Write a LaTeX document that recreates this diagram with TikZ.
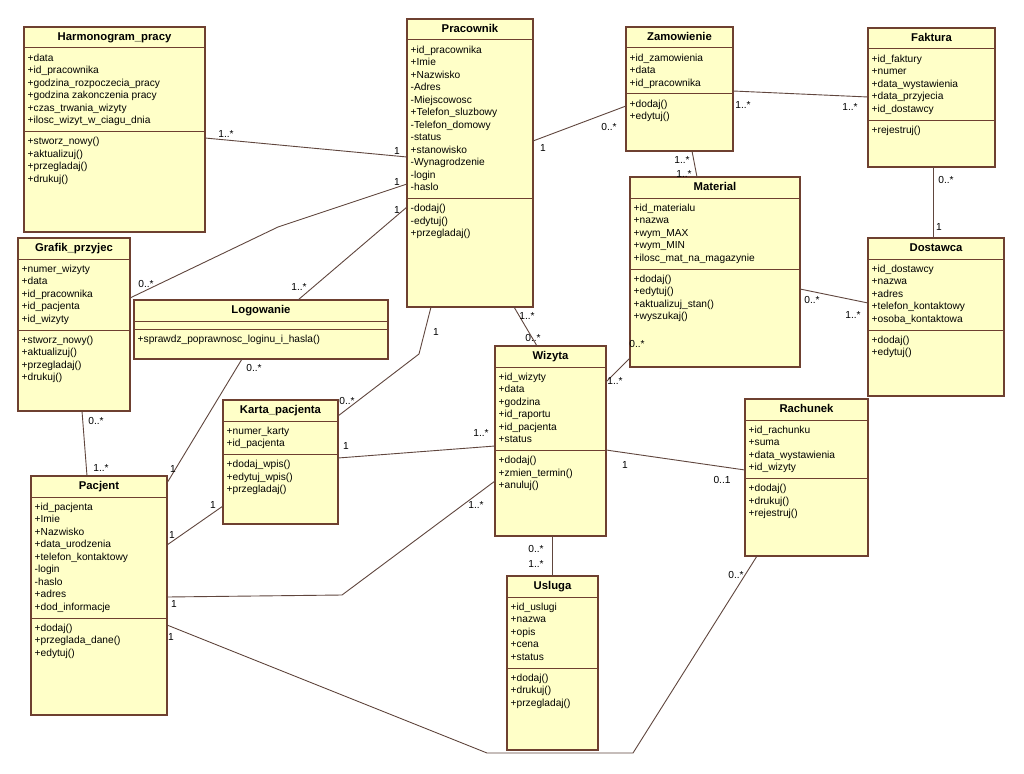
\documentclass[tikz,border=0pt]{standalone}
\usepackage{fontspec}
\setmainfont{Liberation Sans}
\definecolor{clsfill}{RGB}{255,255,200}
\definecolor{clsdraw}{RGB}{110,64,48}
\definecolor{assocline}{RGB}{96,70,62}
\tikzset{
  clsbox/.style={draw=clsdraw, fill=clsfill, line width=1.1pt, inner sep=0pt, outer sep=0pt},
  clssep/.style={draw=clsdraw, line width=1pt},
  clstitle/.style={font=\fontsize{11.3}{13}\selectfont\bfseries, inner sep=0pt, text height=8pt, text depth=2.2pt},
  attr/.style={font=\fontsize{10.2}{12.5}\selectfont, anchor=west, inner sep=0pt, text height=7.5pt, text depth=2.1pt},
  mult/.style={font=\fontsize{10.2}{12.5}\selectfont, inner sep=0pt, text height=7.5pt, text depth=0pt},
  assoc/.style={draw=assocline, line width=0.9pt},
}
% #1 name, #2 x1, #3 top, #4 x2, #5 bottom, #6 title, #7 attributes, #8 methods
\newcommand\umlclass[8]{%
  \node[clsbox, anchor=north west, minimum width={#4-#2}, minimum height={#5-#3}] (#1) at (#2,#3) {};
  \node[clstitle] (#1-title) at ({(#2+#4)/2},{#3+10.5}) {#6};
  \draw[clssep] (#2,{#3+21}) -- (#4,{#3+21});
  \gdef\nattr{0}%
  \def\umlattrlist{#7}%
  \ifx\umlattrlist\empty\else
    \foreach \itm [count=\cnt] in {#7} {%
      \node[attr] (#1-a\cnt) at ({#2+3.5},{#3+31.5+12.5*(\cnt-1)}) {\itm};
      \xdef\nattr{\cnt}}%
  \fi
  \pgfmathsetmacro\sepy{#3+21+12.5*\nattr+8.5}
  \draw[clssep] (#2,\sepy) -- (#4,\sepy);
  \foreach \itm [count=\cnt] in {#8} {%
    \node[attr] (#1-m\cnt) at ({#2+3.5},{\sepy+10.5+12.5*(\cnt-1)}) {\itm};}%
}
\begin{document}
\begin{tikzpicture}[x=1pt,y=-1pt]
\useasboundingbox[fill=white] (0,0) rectangle (1024,773);

\umlclass{harm}{24}{27}{205}{232}{Harmonogram\_pracy}
  {+data, +id\_pracownika, +godzina\_rozpoczecia\_pracy, +godzina zakonczenia pracy, +czas\_trwania\_wizyty, +ilosc\_wizyt\_w\_ciagu\_dnia}
  {+stworz\_nowy(), +aktualizuj(), +przegladaj(), +drukuj()}
\umlclass{prac}{407}{19}{533}{307}{Pracownik}
  {+id\_pracownika, +Imie, +Nazwisko, -Adres, -Miejscowosc, +Telefon\_sluzbowy, -Telefon\_domowy, -status, +stanowisko, -Wynagrodzenie, -login, -haslo}
  {-dodaj(), -edytuj(), +przegladaj()}
\umlclass{zam}{626}{27}{733}{151}{Zamowienie}
  {+id\_zamowienia, +data, +id\_pracownika}
  {+dodaj(), +edytuj()}
\umlclass{fak}{868}{28}{995}{167}{Faktura}
  {+id\_faktury, +numer, +data\_wystawienia, +data\_przyjecia, +id\_dostawcy}
  {+rejestruj()}
\umlclass{mat}{630}{177}{800}{367}{Material}
  {+id\_materialu, +nazwa, +wym\_MAX, +wym\_MIN, +ilosc\_mat\_na\_magazynie}
  {+dodaj(), +edytuj(), +aktualizuj\_stan(), +wyszukaj()}
\umlclass{dos}{868}{238}{1004}{396}{Dostawca}
  {+id\_dostawcy, +nazwa, +adres, +telefon\_kontaktowy, +osoba\_kontaktowa}
  {+dodaj(), +edytuj()}
\umlclass{graf}{18}{238}{130}{411}{Grafik\_przyjec}
  {+numer\_wizyty, +data, +id\_pracownika, +id\_pacjenta, +id\_wizyty}
  {+stworz\_nowy(), +aktualizuj(), +przegladaj(), +drukuj()}
\umlclass{logo}{134}{300}{388}{359}{Logowanie}
  {}
  {+sprawdz\_poprawnosc\_loginu\_i\_hasla()}
\umlclass{karta}{223}{400}{338}{524}{Karta\_pacjenta}
  {+numer\_karty, +id\_pacjenta}
  {+dodaj\_wpis(), +edytuj\_wpis(), +przegladaj()}
\umlclass{pac}{31}{476}{167}{715}{Pacjent}
  {+id\_pacjenta, +Imie, +Nazwisko, +data\_urodzenia, +telefon\_kontaktowy, -login, -haslo, +adres, +dod\_informacje}
  {+dodaj(), +przeglada\_dane(), +edytuj()}
\umlclass{wiz}{495}{346}{606}{536}{Wizyta}
  {+id\_wizyty, +data, +godzina, +id\_raportu, +id\_pacjenta, +status}
  {+dodaj(), +zmien\_termin(), +anuluj()}
\umlclass{usl}{507}{576}{598}{750}{Usluga}
  {+id\_uslugi, +nazwa, +opis, +cena, +status}
  {+dodaj(), +drukuj(), +przegladaj()}
\umlclass{rach}{745}{399}{868}{556}{Rachunek}
  {+id\_rachunku, +suma, +data\_wystawienia, +id\_wizyty}
  {+dodaj(), +drukuj(), +rejestruj()}

% connectors
\draw[assoc] (harm.east |- 0,138) -- (prac.west |- 0,157);
\draw[assoc] (graf.east |- 0,298) -- (278,227) -- (prac.west |- 0,184);
\draw[assoc] (logo.north -| 298,0) -- (prac.west |- 0,207);
\draw[assoc] (graf.south -| 82,0) -- (pac.north -| 87,0);
\draw[assoc] (pac.east |- 0,483) -- (logo.south -| 242,0);
\draw[assoc] (pac.east |- 0,545) -- (karta.west |- 0,506);
\draw[assoc] (karta.east |- 0,416) -- (419,354) -- (prac.south -| 431,0);
\draw[assoc] (pac.east |- 0,597) -- (342,595) -- (wiz.west |- 0,481);
\draw[assoc] (karta.east |- 0,458) -- (wiz.west |- 0,446);
\draw[assoc] (prac.south -| 514,0) -- (wiz.north -| 537,0);
\draw[assoc] (mat.west |- 0,358) -- (wiz.east |- 0,382);
\draw[assoc] (wiz.east |- 0,450) -- (rach.west |- 0,470);
\draw[assoc] (wiz.south -| 552,0) -- (usl.north -| 552,0);
\draw[assoc] (pac.east |- 0,625) -- (487,753) -- (633,753) -- (rach.south -| 757,0);
\draw[assoc] (prac.east |- 0,141) -- (zam.west |- 0,106);
\draw[assoc] (zam.east |- 0,91) -- (fak.west |- 0,97);
\draw[assoc] (zam.south -| 692,0) -- (mat.north -| 697,0);
\draw[assoc] (fak.south -| 933,0) -- (dos.north -| 933,0);
\draw[assoc] (mat.east |- 0,289) -- (dos.west |- 0,303);

% multiplicities
\node[mult] (m1a) at (226,134) {1..*};
\node[mult] (m1b) at (397,151) {1};
\node[mult] (m2a) at (146,284) {0..*};
\node[mult] (m2b) at (397,182) {1};
\node[mult] (m3a) at (299,287) {1..*};
\node[mult] (m3b) at (397,210) {1};
\node[mult] (m4a) at (96,421) {0..*};
\node[mult] (m4b) at (101,468) {1..*};
\node[mult] (m5a) at (173,469) {1};
\node[mult] (m5b) at (254,368) {0..*};
\node[mult] (m6a) at (172,535) {1};
\node[mult] (m6b) at (213,505) {1};
\node[mult] (m7a) at (347,401) {0..*};
\node[mult] (m7b) at (436,332) {1};
\node[mult] (m8a) at (174,604) {1};
\node[mult] (m8b) at (476,505) {1..*};
\node[mult] (m9a) at (346,446) {1};
\node[mult] (m9b) at (481,433) {1..*};
\node[mult] (m10a) at (527,316) {1..*};
\node[mult] (m10b) at (533,338) {0..*};
\node[mult] (m11a) at (637,344) {0..*};
\node[mult] (m11b) at (615,381) {1..*};
\node[mult] (m12a) at (625,465) {1};
\node[mult] (m12b) at (722,480) {0..1};
\node[mult] (m13a) at (536,549) {0..*};
\node[mult] (m13b) at (536,564) {1..*};
\node[mult] (m14a) at (171,637) {1};
\node[mult] (m14b) at (736,575) {0..*};
\node[mult] (m15a) at (543,148) {1};
\node[mult] (m15b) at (609,127) {0..*};
\node[mult] (m16a) at (743,105) {1..*};
\node[mult] (m16b) at (850,107) {1..*};
\node[mult] (m17a) at (682,160) {1..*};
\node[mult] (m17b) at (684,174) {1..*};
\node[mult] (m18a) at (946,180) {0..*};
\node[mult] (m18b) at (939,227) {1};
\node[mult] (m19a) at (812,300) {0..*};
\node[mult] (m19b) at (853,315) {1..*};
\end{tikzpicture}
\end{document}
